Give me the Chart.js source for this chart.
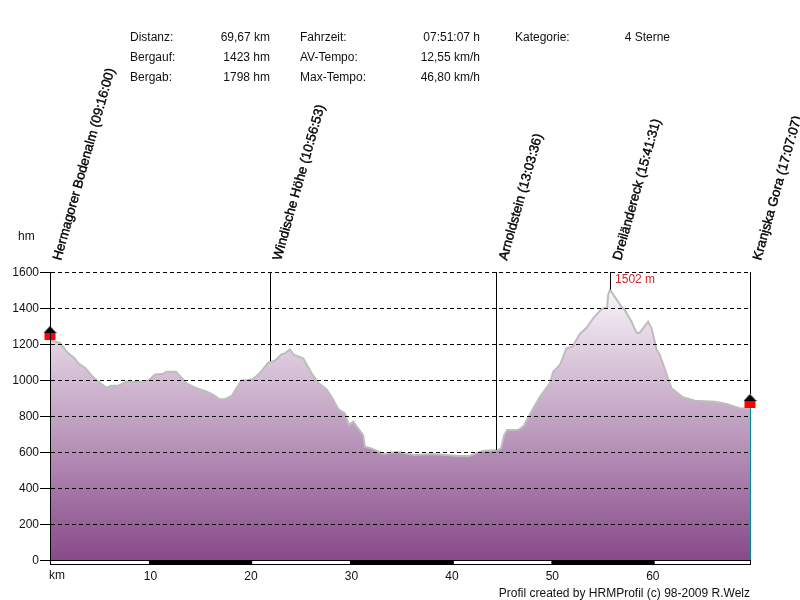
<!DOCTYPE html>
<html><head><meta charset="utf-8">
<style>html,body{margin:0;padding:0;background:#fff}canvas{display:block}</style>
<script src="https://cdn.jsdelivr.net/npm/chart.js@4"></script>
</head><body><canvas id="c" width="800" height="600"></canvas>
<script>
const km = [0,1.0,1.66,2.5,2.8,3.5,4.15,4.8,5.64,6.04,6.8,7.63,8.8,9.78,10.45,11.28,11.6,12.54,13.6,14.6,15.6,16.25,16.9,17.4,18.08,18.58,19.07,19.73,20.23,20.9,21.72,22.39,23.05,23.38,23.88,24.28,25.2,26.04,26.7,27.53,28.03,28.69,29.35,29.75,30.18,31.17,31.34,32.0,33.17,34.58,36.27,38.06,40.75,41.74,43.03,44.6,44.9,45.2,45.5,46.6,47.16,48.1,48.76,49.75,50.08,50.75,51.4,52.0,52.74,53.4,54.06,54.9,55.45,55.55,55.74,56.88,57.2,57.88,58.37,58.7,59.53,59.87,60.37,60.7,61.86,63.0,64.18,66.17,67.33,68.66,69.67];
const elevation = [1222,1206,1157,1117,1094,1067,1024,991,957,968,968,991,989,996,1031,1035,1046,1046,981,954,935,917,893,893,911,956,996,1000,1006,1039,1096,1107,1144,1148,1170,1139,1120,1037,985,948,907,839,815,750,768,694,629,620,589,600,583,589,578,578,606,611,622,694,722,722,746,843,907,981,1046,1083,1176,1185,1256,1290,1343,1394,1402,1472,1502,1407,1389,1324,1263,1263,1324,1287,1170,1139,954,904,885,879,867,843,839];
const yTicks = [0,200,400,600,800,1000,1200,1400,1600];
const xTicks = [10,20,30,40,50,60];
const xMax = 69.67;
const bandEdges = [0,9.85,20.15,29.85,40.2,49.9,60.2,69.67];
const wayKm = [0,21.9,44.4,55.74,69.67];
const wayElevation = [1222,1105,611,1502,839];
const wayLabels = ["Hermagorer Bodenalm (09:16:00)","Windische Höhe (10:56:53)","Arnoldstein (13:03:36)","Dreiländereck (15:41:31)","Kranjska Gora (17:07:07)"];
const endKm = [0,69.67];
const endMarker = [1261,883];
const peakLabel = "1502 m";
const statNames1 = ["Distanz:","Bergauf:","Bergab:"];
const statValues1 = ["69,67 km","1423 hm","1798 hm"];
const statNames2 = ["Fahrzeit:","AV-Tempo:","Max-Tempo:"];
const statValues2 = ["07:51:07 h","12,55 km/h","46,80 km/h"];
const FONT = '12px "Liberation Sans", Arial, sans-serif';

function markerCanvas(){
  const m=document.createElement('canvas');m.width=13;m.height=14;
  const g=m.getContext('2d');
  g.fillStyle='#000';g.beginPath();g.moveTo(6.5,0);g.lineTo(13,7);g.lineTo(0,7);g.closePath();g.fill();
  g.fillStyle='#f00';g.fillRect(1,7,11,7);
  return m;
}

const extras = {
  id:'extras',
  afterDraw(chart){
    const {ctx,scales:{x,y}} = chart;
    const top=y.getPixelForValue(1600), bottom=y.getPixelForValue(0);
    ctx.save();
    for(let i=0;i<bandEdges.length-1;i++){
      const a=x.getPixelForValue(bandEdges[i]), b=x.getPixelForValue(bandEdges[i+1]);
      ctx.fillStyle = i%2 ? '#000' : '#fff';
      ctx.fillRect(a,bottom,b-a,5);
    }
    ctx.strokeStyle='#000';ctx.lineWidth=1;
    ctx.strokeRect(x.getPixelForValue(0)+0.5,bottom+0.5,x.getPixelForValue(xMax)-x.getPixelForValue(0),4);
    wayKm.forEach((k,i)=>{
      const px=Math.round(x.getPixelForValue(k))+0.5;
      const py=y.getPixelForValue(wayElevation[i]);
      if(i>0){
        const end = i===wayKm.length-1 ? y.getPixelForValue(endMarker[1])-7 : py;
        ctx.strokeStyle='#000';ctx.lineWidth=1;ctx.beginPath();ctx.moveTo(px,top);ctx.lineTo(px,end);ctx.stroke();
      }
      ctx.save();
      ctx.translate(px+10.5,261);
      ctx.rotate(-74.3*Math.PI/180);
      ctx.fillStyle='#000';ctx.font='13.3px "Liberation Sans", Arial, sans-serif';
      ctx.textAlign='left';ctx.textBaseline='alphabetic';
      ctx.fillText(wayLabels[i],0,0);
      ctx.strokeStyle='#000';ctx.lineWidth=0.4;ctx.strokeText(wayLabels[i],0,0);
      ctx.restore();
    });
    const rx=Math.round(x.getPixelForValue(xMax))+0.5;
    ctx.strokeStyle='#008b8b';ctx.lineWidth=1;ctx.beginPath();
    ctx.moveTo(rx,y.getPixelForValue(endMarker[1])+7);ctx.lineTo(rx,bottom);ctx.stroke();
    ctx.font=FONT;ctx.textBaseline='middle';ctx.fillStyle='#111';
    ctx.textAlign='left';
    statNames1.forEach((t,i)=>ctx.fillText(t,130,37.5+20*i));
    statNames2.forEach((t,i)=>ctx.fillText(t,300,37.5+20*i));
    ctx.fillText("Kategorie:",515,37.5);
    ctx.fillText("hm",18,237);
    ctx.fillText("km",49,576);
    ctx.textAlign='right';
    statValues1.forEach((t,i)=>ctx.fillText(t,270,37.5+20*i));
    statValues2.forEach((t,i)=>ctx.fillText(t,480,37.5+20*i));
    ctx.fillText("4 Sterne",670,37.5);
    ctx.fillText("Profil created by HRMProfil (c) 98-2009 R.Welz",750,594);
    ctx.textAlign='left';ctx.fillStyle='#d8232a';
    ctx.fillText(peakLabel,x.getPixelForValue(wayKm[3])+5,280);
    ctx.restore();
  }
};

new Chart(document.getElementById('c'),{
  type:'line',
  data:{datasets:[
    {label:'Endpunkte',data:endKm.map((k,i)=>({x:k,y:endMarker[i]})),showLine:false,
     pointStyle:markerCanvas(),pointRadius:7,clip:false,order:0},
    {label:'Profil',data:km.map((k,i)=>({x:k,y:elevation[i]})),
     borderColor:'#bdbdbd',borderWidth:2,pointRadius:0,tension:0,fill:'origin',order:1,
     backgroundColor(ctx){
       const a=ctx.chart.chartArea; if(!a) return '#c0a0c0';
       const g=ctx.chart.ctx.createLinearGradient(0,a.top,0,a.bottom);
       g.addColorStop(0,'#ffffff');g.addColorStop(1,'#884a8a');return g;
     }}
  ]},
  options:{
    responsive:false,animation:false,devicePixelRatio:1,
    layout:{padding:{top:272,right:50,left:0,bottom:0}},
    plugins:{legend:{display:false},tooltip:{enabled:false}},
    scales:{
      x:{type:'linear',min:0,max:xMax,
        afterBuildTicks(s){s.ticks=xTicks.map(v=>({value:v}));},
        afterFit(s){s.height=40;},
        grid:{display:false,drawTicks:false},border:{display:false},
        ticks:{padding:9,maxRotation:0,autoSkip:false,color:'#111',font:{family:'"Liberation Sans", Arial, sans-serif',size:12}}},
      y:{min:0,max:1600,
        afterBuildTicks(s){s.ticks=yTicks.map(v=>({value:v}));},
        afterFit(s){s.width=50;},
        grid:{z:1,color:'#000',tickColor:'#000',tickLength:10,tickBorderDash:[]},
        border:{display:true,color:'#000',dash:[4,3],z:1},
        ticks:{padding:1,labelOffset:1,color:'#111',callback:v=>String(v),font:{family:'"Liberation Sans", Arial, sans-serif',size:12}}}
    }
  },
  plugins:[extras]
});
</script></body></html>
